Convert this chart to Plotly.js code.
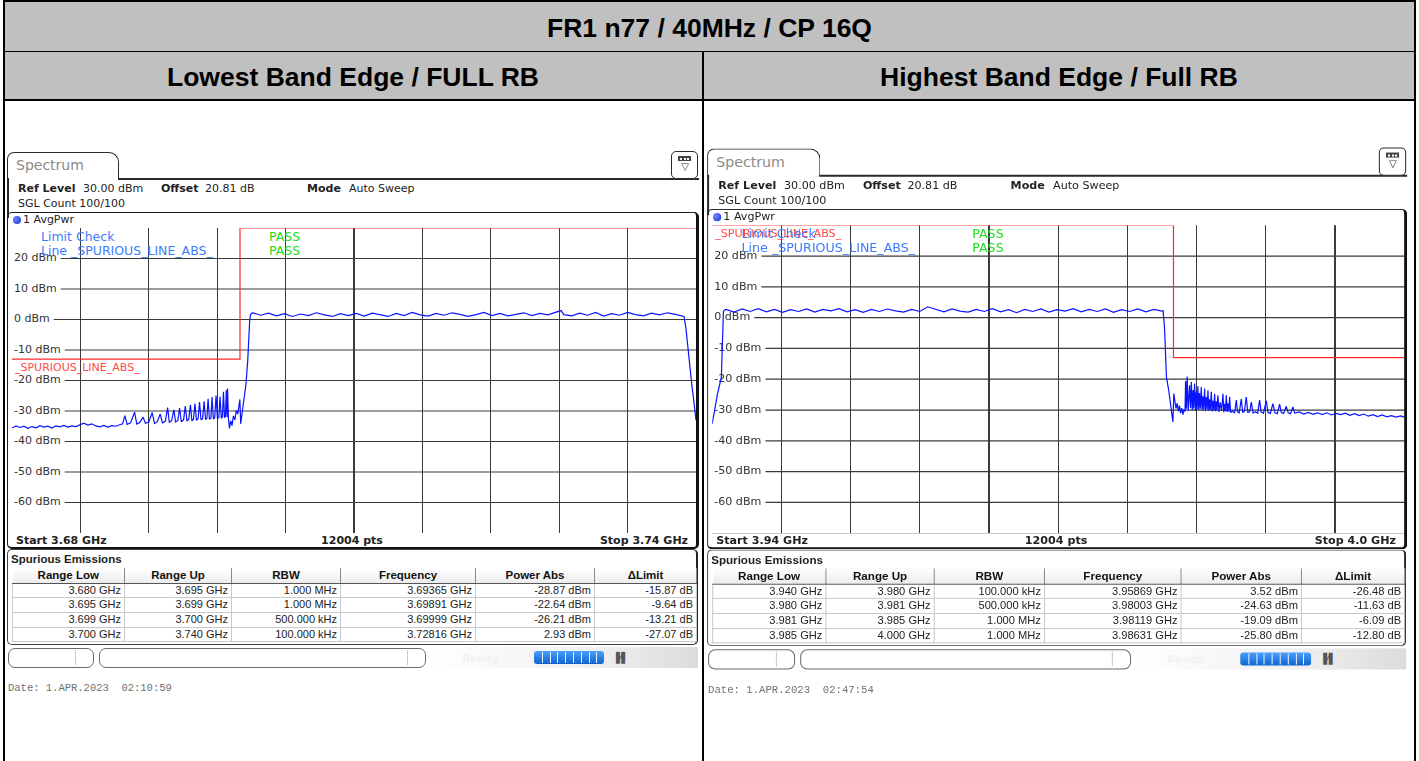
<!DOCTYPE html>
<html><head><meta charset="utf-8">
<script src="https://cdn.plot.ly/plotly-3.0.1.min.js"></script>
<style>
html,body{margin:0;padding:0;background:#fff;}
body{width:1419px;height:761px;overflow:hidden;position:relative;font-family:"DejaVu Sans",sans-serif;color:#222;}
.a{position:absolute;white-space:nowrap;}
.hdr{font-family:"Liberation Sans",Arial,sans-serif;font-weight:bold;color:#000;text-align:center;font-size:26.5px;line-height:30px;}
table.se{border-collapse:collapse;table-layout:fixed;font-family:"Liberation Sans",Arial,sans-serif;}
table.se th{font-weight:bold;font-size:11.5px;height:14.5px;line-height:14.5px;padding:0;text-align:center;border-right:1px solid #8a8a8a;border-bottom:1.5px solid #555;background:linear-gradient(#ffffff,#ececec);color:#111;}
table.se td{font-size:11px;height:13.7px;line-height:13.7px;padding:0 3px 0 0;text-align:right;border:1px solid #c9c9c9;color:#222;}
</style></head><body>
<script>
// ---------------- DATA ----------------
const title = 'FR1 n77 / 40MHz / CP 16Q';
const leftHeading = 'Lowest Band Edge / FULL RB';
const rightHeading = 'Highest Band Edge / Full RB';

const yTickVals = [20, 10, 0, -10, -20, -30, -40, -50, -60];
const yTickText = ['20 dBm', '10 dBm', '0 dBm', '-10 dBm', '-20 dBm', '-30 dBm', '-40 dBm', '-50 dBm', '-60 dBm'];

// Left trace (3.68 - 3.74 GHz), dBm
const leftFreq = [
 3.68000,3.68035,3.68070,3.68105,3.68140,3.68175,3.68210,3.68245,3.68280,3.68315,3.68350,3.68385,3.68420,3.68455,3.68490,3.68525,3.68560,3.68595,3.68630,3.68665,3.68700,3.68735,3.68770,3.68805,3.68840,3.68875,3.68910,3.68945,
 3.68970,3.68990,3.69010,3.69040,3.69075,3.69095,3.69120,3.69150,3.69170,3.69200,3.69230,3.69250,3.69275,3.69300,3.69320,3.69345,3.69365,3.69380,3.69400,3.69420,3.69435,3.69455,3.69470,3.69485,3.69505,3.69520,3.69535,3.69550,3.69565,3.69578,3.69592,3.69605,3.69618,3.69632,3.69645,3.69658,3.69672,3.69685,3.69698,3.69710,3.69720,3.69732,3.69745,3.69755,3.69766,3.69778,3.69790,3.69802,3.69814,3.69825,3.69836,3.69846,3.69855,3.69864,3.69872,3.69880,3.69886,3.69891,3.69898,
 3.69908,3.69918,3.69930,3.69942,3.69955,3.69968,3.69980,3.69990,3.69999,3.70006,3.70015,3.70026,3.70040,3.70053,3.70068,3.70076,3.70084,3.70092,
 3.7011,3.7018,3.7025,3.7032,3.7039,3.7046,3.7053,3.7060,3.7067,3.7074,3.7081,3.7088,3.7095,3.7102,3.7109,3.7116,3.7123,3.7130,3.7137,3.7144,3.7151,3.7158,3.7165,3.7172,3.7179,3.7186,3.7193,3.7200,3.7207,3.7214,3.7221,3.7228,3.7235,3.7242,3.7249,3.7256,3.7263,3.7270,3.7277,
 3.72816,
 3.7284,3.7291,3.7298,3.7305,3.7312,3.7319,3.7326,3.7333,3.7340,3.7347,3.7354,3.7361,3.7368,3.7375,3.7382,3.7387,
 3.73895,3.73912,3.73930,3.73947,3.73965,3.73982,3.74000
];
const leftPow = [
 -35.6,-34.9,-35.4,-35.0,-35.7,-35.1,-35.5,-34.8,-35.3,-35.0,-35.6,-34.9,-35.2,-34.7,-35.3,-34.9,-35.1,-34.5,-34.0,-34.6,-34.2,-34.9,-35.2,-34.7,-35.3,-34.8,-35.0,-34.5,
 -34.2,-31.5,-34.4,-33.9,-30.4,-34.3,-33.8,-32.0,-34.0,-33.6,-30.5,-34.1,-33.5,-31.0,-33.9,-33.4,-28.87,-33.7,-33.2,-29.6,-33.6,-33.1,-29.0,-33.5,-32.9,-28.4,-33.3,-32.8,-28.0,-33.2,-32.7,-27.6,-33.0,-32.6,-27.1,-32.9,-32.5,-26.8,-32.8,-32.4,-26.0,-32.7,-32.3,-25.4,-32.6,-32.2,-24.9,-32.5,-32.1,-25.3,-32.4,-31.9,-23.7,-32.2,-31.8,-23.1,-32.0,-22.64,-32.3,
 -35.7,-33.2,-34.8,-31.6,-32.9,-29.8,-31.0,-27.9,-26.21,-34.2,-31.5,-28.7,-24.5,-21.0,-13.4,-5.8,-1.0,1.6,
 2.2,1.4,2.1,1.2,1.9,1.0,1.8,1.3,2.2,1.5,1.0,1.9,1.3,2.0,1.1,2.1,1.6,1.0,2.0,1.3,2.3,1.5,1.1,2.0,1.4,2.2,1.7,1.0,1.6,2.3,1.3,2.0,1.2,1.8,2.2,1.3,2.0,1.5,2.3,
 2.93,
 1.6,1.2,2.1,1.4,2.3,1.1,1.9,1.4,2.3,1.6,1.2,2.1,1.5,2.2,1.7,1.2,
 1.0,-3.0,-10.0,-17.0,-22.0,-27.0,-33.0
];

// Right trace (3.94 - 4.0 GHz), dBm
const rightFreq = [
 3.94000,3.94010,3.94022,3.94045,3.94065,3.94080,3.94086,3.94092,3.94098,3.94110,
 3.9412,3.9419,3.9426,3.9433,3.9440,3.9447,3.9454,3.9461,3.9468,3.9475,3.9482,3.9489,3.9496,3.9503,3.9510,3.9517,3.9524,3.9531,3.9538,3.9545,3.9552,3.9559,3.9566,3.9573,3.9580,
 3.95869,
 3.9594,3.9601,3.9608,3.9615,3.9622,3.9629,3.9636,3.9643,3.9650,3.9657,3.9664,3.9671,3.9678,3.9685,3.9692,3.9699,3.9706,3.9713,3.9720,3.9727,3.9734,3.9741,3.9748,3.9755,3.9762,3.9769,3.9776,3.9783,3.9790,
 3.97910,3.97922,3.97930,3.97939,3.97959,3.97980,3.97995,3.98003,3.98012,3.98022,3.98032,3.98042,3.98052,3.98062,3.98072,3.98082,3.98092,3.98100,
 3.98105,3.98112,3.98119,3.98127,3.98140,3.98148,3.98155,3.98163,3.98170,3.98176,3.98183,3.98191,3.98198,3.98205,3.98212,3.98219,3.98226,3.98233,3.98241,3.98248,3.98255,3.98262,3.98270,3.98277,3.98285,3.98292,3.98299,3.98306,3.98313,3.98320,3.98328,3.98335,3.98342,3.98349,3.98357,3.98363,3.98370,3.98377,3.98385,3.98395,3.98405,3.98417,3.98429,3.98436,3.98443,3.98450,3.98458,3.98465,3.98472,3.98480,3.98487,3.98495,
 3.98510,3.98530,3.98545,3.98555,3.98570,3.98588,3.98600,3.98615,3.98631,3.98645,3.98660,3.98675,3.98690,3.98710,3.98730,3.98747,3.98760,3.98780,3.98805,3.98820,3.98840,3.98862,3.98880,3.98900,3.98920,3.98935,3.98955,3.98978,3.98995,3.99015,3.99036,3.99050,
 3.99090,3.99130,3.99170,3.99210,3.99250,3.99290,3.99330,3.99370,3.99410,3.99450,3.99490,3.99530,3.99570,3.99610,3.99650,3.99690,3.99730,3.99770,3.99810,3.99850,3.99890,3.99930,3.99970,4.00000
];
const rightPow = [
 -34.5,-32.0,-30.0,-25.0,-21.4,-19.3,-12.0,-4.0,2.1,2.5,
 2.7,1.8,2.8,2.0,2.9,1.9,2.7,1.7,2.6,2.0,2.8,1.8,2.7,2.2,2.9,1.9,2.6,1.7,2.7,2.0,2.8,2.2,1.8,2.7,2.0,
 3.52,
 2.6,1.9,2.8,2.1,1.8,2.7,2.0,2.9,1.9,2.6,1.6,2.7,2.0,2.8,1.8,2.6,2.1,2.9,1.9,2.7,2.0,2.8,1.7,2.6,2.0,2.8,1.9,2.7,2.1,
 2.2,-3.0,-10.6,-19.3,-23.6,-29.0,-33.9,-24.63,-27.0,-29.5,-27.8,-30.4,-28.6,-31.0,-29.4,-31.5,-29.8,-30.5,
 -20.6,-29.6,-19.09,-30.2,-22.0,-29.4,-20.9,-30.1,-23.5,-29.5,-21.4,-30.3,-24.0,-29.7,-22.3,-30.0,-24.5,-29.6,-22.5,-30.2,-25.5,-29.8,-23.0,-30.4,-25.8,-29.9,-23.6,-30.3,-26.5,-30.0,-24.1,-30.5,-27.0,-30.1,-24.7,-30.4,-27.2,-30.2,-25.2,-30.6,-27.5,-30.3,-24.7,-30.7,-28.0,-30.4,-25.2,-30.6,-27.8,-30.5,-25.7,-30.8,
 -30.4,-30.9,-26.8,-30.6,-30.9,-26.4,-30.7,-30.5,-25.80,-30.8,-30.6,-27.4,-30.9,-30.6,-31.0,-26.8,-30.7,-31.0,-27.0,-30.8,-31.1,-27.9,-30.9,-31.2,-28.1,-30.8,-31.1,-28.8,-30.9,-31.2,-29.0,-31.0,
 -30.6,-31.3,-30.8,-31.4,-30.9,-31.5,-30.9,-31.6,-31.1,-31.5,-31.0,-31.7,-31.2,-31.8,-31.3,-32.0,-31.5,-32.1,-31.6,-32.2,-31.8,-32.3,-31.9,-32.3
];

// Limit lines
const leftLimitFreq = [3.68, 3.70, 3.70, 3.74];
const leftLimitPow = [-13, -13, 30, 30];
const rightLimitFreq = [3.94, 3.98, 3.98, 4.00];
const rightLimitPow = [30, 30, -13, -13];

// Spurious emission tables
const tableHeaders = ['Range Low', 'Range Up', 'RBW', 'Frequency', 'Power Abs', '\u0394Limit'];
const leftRangeLow = ['3.680 GHz', '3.695 GHz', '3.699 GHz', '3.700 GHz'];
const leftRangeUp = ['3.695 GHz', '3.699 GHz', '3.700 GHz', '3.740 GHz'];
const leftRBW = ['1.000 MHz', '1.000 MHz', '500.000 kHz', '100.000 kHz'];
const leftPeakFreq = ['3.69365 GHz', '3.69891 GHz', '3.69999 GHz', '3.72816 GHz'];
const leftPowerAbs = ['-28.87 dBm', '-22.64 dBm', '-26.21 dBm', '2.93 dBm'];
const leftDeltaLimit = ['-15.87 dB', '-9.64 dB', '-13.21 dB', '-27.07 dB'];
const rightRangeLow = ['3.940 GHz', '3.980 GHz', '3.981 GHz', '3.985 GHz'];
const rightRangeUp = ['3.980 GHz', '3.981 GHz', '3.985 GHz', '4.000 GHz'];
const rightRBW = ['100.000 kHz', '500.000 kHz', '1.000 MHz', '1.000 MHz'];
const rightPeakFreq = ['3.95869 GHz', '3.98003 GHz', '3.98119 GHz', '3.98631 GHz'];
const rightPowerAbs = ['3.52 dBm', '-24.63 dBm', '-19.09 dBm', '-25.80 dBm'];
const rightDeltaLimit = ['-26.48 dB', '-11.63 dB', '-6.09 dB', '-12.80 dB'];

// ---------------- LAYOUT HELPERS ----------------
const page = document.body;
function box(parent, css, text, html) {
  const d = document.createElement('div');
  d.className = 'a';
  Object.assign(d.style, css);
  if (html !== undefined) d.innerHTML = html;
  else if (text !== undefined) d.textContent = text;
  parent.appendChild(d);
  return d;
}
function txt(parent, x, yc, text, opts) {
  opts = opts || {};
  const fs = opts.size || 11;
  const css = {top: (yc - fs * 0.7) + 'px', fontSize: fs + 'px', lineHeight: (fs * 1.4) + 'px',
    color: opts.color || '#222', fontWeight: opts.bold ? 'bold' : 'normal', fontFamily: opts.family || '"DejaVu Sans",sans-serif'};
  if (opts.align === 'right') { css.right = (710 - x) + 'px'; }
  else if (opts.align === 'center') { css.left = (x - 200) + 'px'; css.width = '400px'; css.textAlign = 'center'; }
  else css.left = x + 'px';
  if (opts.pre) css.whiteSpace = 'pre';
  return box(parent, css, text);
}

// ---------------- PAGE FRAME ----------------
box(page, {left: '4px', top: '2px', width: '1411px', height: '49px', background: '#c0c0c0'});
box(page, {left: '4px', top: '52px', width: '1411px', height: '47px', background: '#c0c0c0'});
box(page, {left: '3px', top: '0px', width: '1413px', height: '2px', background: '#000'});
box(page, {left: '3px', top: '51px', width: '1413px', height: '1px', background: '#000'});
box(page, {left: '3px', top: '99px', width: '1413px', height: '1.5px', background: '#000'});
box(page, {left: '3px', top: '0px', width: '2px', height: '761px', background: '#000'});
box(page, {left: '1414px', top: '0px', width: '2px', height: '761px', background: '#000'});
box(page, {left: '702px', top: '51px', width: '2px', height: '710px', background: '#000'});
box(page, {left: '4px', top: '13px', width: '1411px', textAlign: 'center'}, title).classList.add('hdr');
box(page, {left: '4px', top: '62px', width: '698px', textAlign: 'center'}, leftHeading).classList.add('hdr');
box(page, {left: '704px', top: '62px', width: '710px', textAlign: 'center'}, rightHeading).classList.add('hdr');

// ---------------- PANEL ----------------
function buildPanel(p) {
  const c = box(page, {left: p.ox + 'px', top: p.oy + 'px', width: '710px', height: '770px',
    transform: 'scale(' + p.sx + ',' + p.sy + ')', transformOrigin: '0 0'});
  const dark = '#2b2b2b';
  // tab
  box(c, {left: '7px', top: '152px', width: '110px', height: '27px', border: '1.5px solid ' + dark, borderBottom: 'none', borderRadius: '7px 10px 0 0', background: '#fff'});
  txt(c, 16, 166, 'Spectrum', {size: 14, color: '#8a8a8a'});
  box(c, {left: '118px', top: '178px', width: '581px', height: '1.5px', background: dark});
  box(c, {left: '7px', top: '178px', width: '1.5px', height: '40px', background: dark});
  // icon box
  box(c, {left: '671px', top: '151px', width: '25px', height: '26px', border: '1.5px solid ' + dark, borderRadius: '5px', background: '#fff'});
  box(c, {left: '678px', top: '156px', width: '13px', height: '5px', background: '#444'});
  for (let i = 0; i < 3; i++) box(c, {left: (680 + i * 3.6) + 'px', top: '157.5px', width: '2px', height: '2px', background: '#fff'});
  txt(c, 685, 167, '\u25BD', {size: 10, color: '#333', align: 'center'});
  // info
  txt(c, 18, 189, 'Ref Level', {bold: true});
  txt(c, 83, 189, '30.00 dBm');
  txt(c, 161, 189, 'Offset', {bold: true});
  txt(c, 205, 189, '20.81 dB');
  txt(c, 307, 189, 'Mode', {bold: true});
  txt(c, 349, 189, 'Auto Sweep');
  txt(c, 18, 204, 'SGL Count 100/100');
  // trace box
  box(c, {left: '7px', top: '211.5px', width: '688px', height: '334px', border: '1.5px solid #1a1a1a', borderRight: '3px solid #111', borderBottom: '2px solid #111', borderRadius: '5px'});
  box(c, {left: '13px', top: '216px', width: '8px', height: '8px', borderRadius: '50%', background: 'radial-gradient(circle at 35% 35%, #6a86ff, #1632d8)'});
  txt(c, 23, 220, '1 AvgPwr');
  // footer
  txt(c, 16, 541, p.startLabel, {bold: true});
  txt(c, 352, 541, '12004 pts', {bold: true, align: 'center'});
  txt(c, 688, 541, p.stopLabel, {bold: true, align: 'right'});
  // plot
  const plotDiv = box(c, {left: '12px', top: '228px', width: '684px', height: '305px'});
  drawChart(plotDiv, p);
  // spurious emissions box
  box(c, {left: '7px', top: '549px', width: '688px', height: '94px', border: '1.5px solid #444', borderRight: '2.5px solid #222', borderRadius: '5px'});
  txt(c, 11, 559, 'Spurious Emissions', {bold: true, size: 11.5, family: '"Liberation Sans",Arial,sans-serif'});
  const tbl = document.createElement('table');
  tbl.className = 'se';
  tbl.style.cssText = 'position:absolute;left:12px;top:568px;width:684px;';
  const widths = [112, 107, 109, 135, 119, 102];
  let h = '<colgroup>' + widths.map(w => '<col style="width:' + w + 'px">').join('') + '</colgroup><tr>';
  h += tableHeaders.map(t => '<th>' + t + '</th>').join('') + '</tr>';
  for (let r = 0; r < 4; r++) {
    h += '<tr>' + p.cols.map(col => '<td>' + col[r] + '</td>').join('') + '</tr>';
  }
  tbl.innerHTML = h;
  c.appendChild(tbl);
  // status bar
  box(c, {left: '8px', top: '648px', width: '84px', height: '18px', border: '1px solid #6a6a6a', borderRadius: '7px', background: '#fff'});
  box(c, {left: '75px', top: '650px', width: '1px', height: '15px', background: '#c8c8c8'});
  box(c, {left: '99px', top: '648px', width: '325px', height: '18px', border: '1px solid #6a6a6a', borderRadius: '7px', background: '#fff'});
  box(c, {left: '407px', top: '650px', width: '1px', height: '15px', background: '#c8c8c8'});
  box(c, {left: '428px', top: '647px', width: '270px', height: '21px', background: 'linear-gradient(to right,#ffffff 0%,#f0f0f0 60%,#dcdcdc 100%)'});
  txt(c, 462, 658, 'Ready', {bold: true, color: '#f2f2f2', size: 10.5});
  box(c, {left: '534px', top: '651px', width: '70px', height: '13px', borderRadius: '3px', background: 'linear-gradient(#4aa0ff,#0f64cf)'});
  for (let i = 1; i < 9; i++) box(c, {left: (534 + i * 7.8) + 'px', top: '652px', width: '1px', height: '11px', background: '#e8f2ff'});
  txt(c, 612, 658, '\u2590\u2044\u258C', {size: 10, color: '#555', bold: true});
  // date
  txt(c, 8, 688, p.date, {size: 10.5, color: '#707070', family: '"Liberation Mono","DejaVu Sans Mono",monospace', pre: true});
}

function drawChart(div, p) {
  const W = 684, H = 305;
  const x0 = p.range[0], x1 = p.range[1], span = x1 - x0;
  const toX = px => x0 + px / W * span;
  const ctx = document.createElement('canvas').getContext('2d');
  ctx.font = '11px "DejaVu Sans"';
  const labelStartPx = 5;
  const shapes = yTickVals.map((v, i) => ({
    type: 'line', layer: 'below', xref: 'x', yref: 'y',
    x0: toX(labelStartPx + ctx.measureText(yTickText[i]).width + 1), x1: x1, y0: v, y1: v,
    line: {color: '#3a3a3a', width: 1.2}
  }));
  const traces = [
    {x: yTickVals.map(() => toX(labelStartPx - 3)), y: yTickVals, text: yTickText, mode: 'text', type: 'scatter',
      textposition: 'middle right', textfont: {family: 'DejaVu Sans', size: 11, color: '#333'}, hoverinfo: 'skip', cliponaxis: false},
    {x: p.limFreq, y: p.limPow, mode: 'lines', type: 'scatter', line: {color: '#ff2a2a', width: 1.2}, cliponaxis: false, hoverinfo: 'skip'},
    {x: p.freq, y: p.pow, mode: 'lines', type: 'scatter', line: {color: '#0a14ff', width: 1.2}, hoverinfo: 'skip'}
  ];
  const ann = [];
  const pyToPaper = py => 1 - py / H;
  p.labels.forEach(l => ann.push({xref: 'paper', yref: 'paper', x: l.x / W, y: pyToPaper(l.y), xanchor: 'left', yanchor: 'middle',
    text: l.t, showarrow: false, font: {family: 'DejaVu Sans', size: l.s || 12.5, color: l.c}}));
  const layout = {
    width: W, height: H, margin: {l: 0, r: 0, t: 0, b: 0}, paper_bgcolor: 'rgba(0,0,0,0)', plot_bgcolor: '#fff', showlegend: false,
    xaxis: {range: p.range, tick0: x0, dtick: 0.006, showgrid: true, gridcolor: '#3a3a3a', gridwidth: 1.2, showticklabels: false,
      zeroline: false, showline: true, mirror: true, linecolor: '#2a2a2a', linewidth: 1.5, ticks: '', layer: 'below traces'},
    yaxis: {range: [-70, 30], showgrid: false, showticklabels: false, zeroline: false, showline: true, mirror: true,
      linecolor: '#2a2a2a', linewidth: 1.5, ticks: '', layer: 'below traces'},
    shapes: shapes, annotations: ann
  };
  Plotly.newPlot(div, traces, layout, {staticPlot: true, displayModeBar: false});
}

buildPanel({ox: 0, oy: 0, sx: 1, sy: 1, range: [3.68, 3.74], freq: leftFreq, pow: leftPow,
  limFreq: leftLimitFreq, limPow: leftLimitPow, startLabel: 'Start 3.68 GHz', stopLabel: 'Stop 3.74 GHz',
  date: 'Date: 1.APR.2023  02:10:59',
  cols: [leftRangeLow, leftRangeUp, leftRBW, leftPeakFreq, leftPowerAbs, leftDeltaLimit],
  labels: [
    {t: 'Limit Check', x: 27, y: 8, c: '#3d7cff'}, {t: 'PASS', x: 255, y: 8, c: '#1fdc1f'},
    {t: 'Line _SPURIOUS_LINE_ABS_', x: 27, y: 23, c: '#3d7cff'}, {t: 'PASS', x: 255, y: 23, c: '#1fdc1f'},
    {t: '_SPURIOUS_LINE_ABS_', x: 0, y: 139, c: '#ff4a4a', s: 11}
  ]});
buildPanel({ox: 700.4, oy: -5.2, sx: 1.0117, sy: 1.0098, range: [3.94, 4.0], freq: rightFreq, pow: rightPow,
  limFreq: rightLimitFreq, limPow: rightLimitPow, startLabel: 'Start 3.94 GHz', stopLabel: 'Stop 4.0 GHz',
  date: 'Date: 1.APR.2023  02:47:54',
  cols: [rightRangeLow, rightRangeUp, rightRBW, rightPeakFreq, rightPowerAbs, rightDeltaLimit],
  labels: [
    {t: '_SPURIOUS_LINE_ABS_', x: 0, y: 8, c: '#ff4a4a', s: 11},
    {t: 'Limit Check', x: 27, y: 8, c: '#3d7cff'}, {t: 'PASS', x: 255, y: 8, c: '#1fdc1f'},
    {t: 'Line _SPURIOUS_LINE_ABS_', x: 27, y: 23, c: '#3d7cff'}, {t: 'PASS', x: 255, y: 23, c: '#1fdc1f'}
  ]});
</script>
</body></html>
